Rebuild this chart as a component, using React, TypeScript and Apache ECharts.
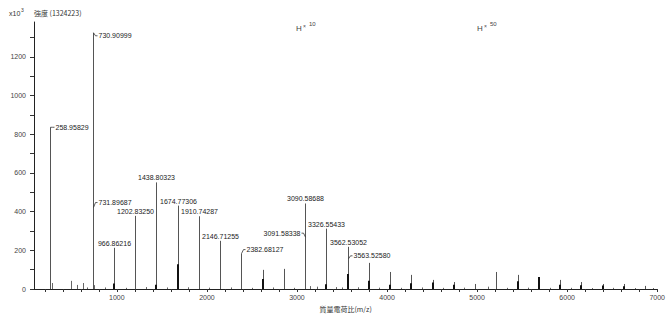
import React, { useEffect, useRef } from "react";
import * as echarts from "echarts";

// ---- axis ticks ----
const xLabelValues = [1000, 2000, 3000, 4000, 5000, 6000, 7000];
const xTickValues = [200, 400, 600, 800, 1000, 1200, 1400, 1600, 1800, 2000, 2200, 2400, 2600, 2800, 3000, 3200, 3400, 3600, 3800, 4000, 4200, 4400, 4600, 4800, 5000, 5200, 5400, 5600, 5800, 6000, 6200, 6400, 6600, 6800, 7000];
const yLabelValues = [0, 200, 400, 600, 800, 1000, 1200];
const yTickValues = [0, 100, 200, 300, 400, 500, 600, 700, 800, 900, 1000, 1100, 1200, 1300];

// ---- main peaks (m/z, intensity x10^3) ----
const mainMz = [258.95829, 730.90999, 731.89687, 966.86216, 1202.8325, 1438.80323, 1674.77306, 1910.74287, 2146.71255, 2382.68127, 2618.65, 2854.62, 3090.58688, 3091.58338, 3326.55433, 3562.53052, 3563.5258, 3798.5, 4034.47, 4270.44, 4506.41, 4742.38, 4978.35, 5214.32, 5450.29, 5686.26, 5922.23, 6158.2, 6394.17, 6630.14, 6866.11];
const mainIntensity = [836, 1324.223, 421, 213, 378, 551, 431, 376, 249, 183, 99, 104, 442, 268, 312, 218, 156, 135, 88, 73, 47, 36, 26, 88, 73, 62, 47, 36, 26, 26, 16];

// ---- isotope cluster parts (dark) ----
const clusterMz = [966.86, 1438.8, 1674.77, 2618.65, 3326.55, 3562.53, 3798.5, 4034.47, 4270.44, 4506.41, 4742.38, 5450.29, 5686.26, 5922.23, 6158.2, 6394.17, 6630.14];
const clusterIntensity = [28, 22, 128, 52, 25, 78, 42, 22, 30, 34, 22, 40, 62, 22, 20, 18, 14];

// ---- small peaks ----
const noiseMz = [282, 487, 552, 623, 667, 745, 867, 1096, 1320, 1556, 1792, 2028, 2264, 2500, 2736, 2972, 3148, 3218, 3428, 3505, 3680, 3916, 4152, 4388, 4624, 4860, 5124, 5332, 5568, 5804, 6040, 6276, 6512, 6748, 6950];
const noiseIntensity = [31, 42, 21, 31, 8, 20, 8, 6, 10, 8, 9, 7, 8, 6, 8, 6, 15, 12, 10, 8, 9, 7, 6, 8, 6, 7, 12, 6, 7, 6, 6, 5, 6, 5, 5];

// ---- labelled peaks ----
const labelMz = [258.95829, 730.90999, 731.89687, 966.86216, 1202.8325, 1438.80323, 1674.77306, 1910.74287, 2146.71255, 2382.68127, 3090.58688, 3091.58338, 3326.55433, 3562.53052, 3563.5258];
const labelIntensity = [836, 1324.223, 421, 213, 378, 551, 431, 376, 249, 183, 442, 268, 312, 218, 156];
const labelSide = ["right", "right", "right", "top", "top", "top", "top", "top", "top", "right", "top", "left", "top", "top", "right"];

const FONT = "'Liberation Sans', Arial, sans-serif";
const JP = "'Noto Sans CJK JP', 'Liberation Sans', sans-serif";

// label offsets (presentation only)
const labelDy: Record<number, number> = { 0: 0, 1: 3, 2: -5, 9: -4, 11: -4, 14: -3 };

function peakSeries(mz: number[], inten: number[], color: string, width: number, z: number) {
  return {
    type: "custom",
    z,
    silent: true,
    encode: { x: 0, y: 1 },
    data: mz.map((m, i) => [m, inten[i]]),
    renderItem: (_p: any, api: any) => {
      const p0 = api.coord([api.value(0), 0]);
      const p1 = api.coord([api.value(0), api.value(1)]);
      const x = Math.round(p0[0]) + (width % 2 === 1 ? 0.5 : 0);
      return {
        type: "line",
        shape: { x1: x, y1: p0[1], x2: x, y2: p1[1] },
        style: { stroke: color, lineWidth: width },
      };
    },
  };
}

export default function App() {
  const ref = useRef<HTMLDivElement>(null);
  useEffect(() => {
    const chart = echarts.init(ref.current!, null, { renderer: "svg" });
    const option: any = {
      animation: false,
      backgroundColor: "#fff",
      grid: { left: 34, right: 8, top: 22, bottom: 38 },
      xAxis: {
        type: "value",
        min: 80,
        max: 7000,
        name: "質量電荷比(m/z)",
        nameLocation: "middle",
        nameGap: 16,
        nameTextStyle: { fontFamily: JP, fontSize: 7, color: "#333" },
        axisLine: { lineStyle: { color: "#222", width: 1 } },
        axisTick: { show: true, length: 3, customValues: xTickValues, lineStyle: { color: "#333" } },
        axisLabel: { customValues: xLabelValues, formatter: (v: number) => String(v), fontSize: 7, fontFamily: FONT, color: "#444", margin: 5 },
        splitLine: { show: false },
      },
      yAxis: {
        type: "value",
        min: 0,
        max: 1380,
        axisLine: { show: true, lineStyle: { color: "#222", width: 1 } },
        axisTick: { show: true, length: 4, customValues: yTickValues, lineStyle: { color: "#333" } },
        axisLabel: { customValues: yLabelValues, formatter: (v: number) => String(v), fontSize: 7, fontFamily: FONT, color: "#444", margin: 8 },
        splitLine: { show: false },
      },
      series: [
        peakSeries(noiseMz, noiseIntensity, "#666", 1, 2),
        peakSeries(mainMz, mainIntensity, "#555", 1, 3),
        peakSeries(clusterMz, clusterIntensity, "#111", 2, 4),
        {
          type: "custom",
          z: 5,
          silent: true,
          encode: { x: 0, y: 1 },
          data: labelMz.map((m, i) => [m, labelIntensity[i], i]),
          renderItem: (_p: any, api: any) => {
            const i = api.value(2);
            const p = api.coord([api.value(0), api.value(1)]);
            const px = Math.round(p[0]) + 0.5;
            const py = p[1];
            const text = labelMz[i].toFixed(5);
            const side = labelSide[i];
            const dy = labelDy[i] ?? 0;
            const base = { fontSize: 7, fontFamily: FONT, fill: "#222" };
            if (side === "top") {
              return {
                type: "text",
                style: { ...base, text, x: px, y: py - 1, align: "center", verticalAlign: "bottom" },
              };
            }
            const dir = side === "right" ? 1 : -1;
            return {
              type: "group",
              children: [
                {
                  type: "polyline",
                  shape: { points: [[px, py], [px + dir * 2, py + dy], [px + dir * 4, py + dy]] },
                  style: { stroke: "#333", lineWidth: 0.8, fill: null },
                },
                {
                  type: "text",
                  style: { ...base, text, x: px + dir * 5, y: py + dy, align: side === "right" ? "left" : "right", verticalAlign: "middle" },
                },
              ],
            };
          },
        },
      ],
      graphic: [
        { type: "text", left: 9, top: 10, style: { text: "x10", fontSize: 7, fontFamily: FONT, fill: "#333" } },
        { type: "text", left: 21, top: 7, style: { text: "3", fontSize: 5, fontFamily: FONT, fill: "#333" } },
        { type: "text", left: 34, top: 9, style: { text: "強度 (1324223)", fontSize: 7, fontFamily: JP, fill: "#333" } },
        { type: "text", left: 296, top: 24, style: { text: "H", fontSize: 8, fontFamily: FONT, fill: "#444" } },
        { type: "text", left: 303, top: 23, style: { text: "×", fontSize: 5, fontFamily: FONT, fill: "#444" } },
        { type: "text", left: 309, top: 21, style: { text: "10", fontSize: 6, fontFamily: FONT, fill: "#444" } },
        { type: "text", left: 477, top: 24, style: { text: "H", fontSize: 8, fontFamily: FONT, fill: "#444" } },
        { type: "text", left: 484, top: 23, style: { text: "×", fontSize: 5, fontFamily: FONT, fill: "#444" } },
        { type: "text", left: 490, top: 21, style: { text: "50", fontSize: 6, fontFamily: FONT, fill: "#444" } },
      ],
    };
    chart.setOption(option);
    return () => chart.dispose();
  }, []);
  return <div ref={ref} style={{ position: "fixed", left: 0, top: 0, width: 668, height: 327 }} />;
}
